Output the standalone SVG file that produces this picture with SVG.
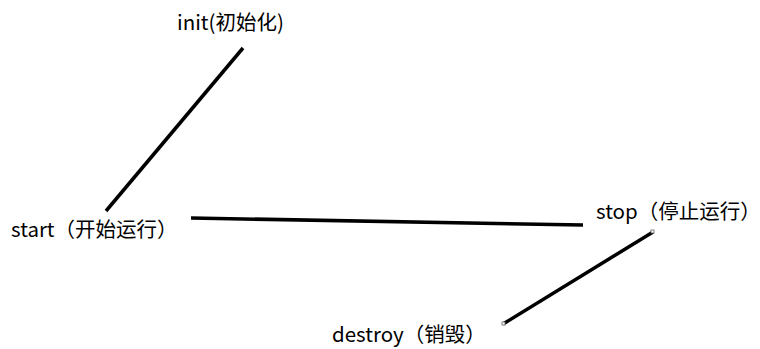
<svg xmlns="http://www.w3.org/2000/svg" width="760" height="349" viewBox="0 0 760 349">
<style>
text{font-family:"Microsoft YaHei","Noto Sans CJK SC","Noto Sans",sans-serif;font-size:20.5px;fill:#000}
.c{stroke:#000;stroke-width:3.5;fill:none;stroke-linecap:butt}
</style>
<rect width="760" height="349" fill="#fff"/>
<g id="connectors">
<line class="c" x1="243" y1="48" x2="106" y2="211"/>
<line class="c" x1="191" y1="218" x2="583" y2="225"/>
<line class="c" x1="653" y1="232" x2="503" y2="324"/>
<rect x="651" y="230" width="3" height="3" fill="#fff" stroke="#666" stroke-width="0.8"/>
<rect x="502" y="322" width="3" height="3" fill="#fff" stroke="#666" stroke-width="0.8"/>
</g>
<g id="init"><text x="177" y="30">init(初始化)</text></g>
<g id="start"><text x="11" y="237">start（开始运行）</text></g>
<g id="stop"><text x="596" y="219">stop（停止运行）</text></g>
<g id="destroy"><text x="332" y="342">destroy（销毁）</text></g>
</svg>
